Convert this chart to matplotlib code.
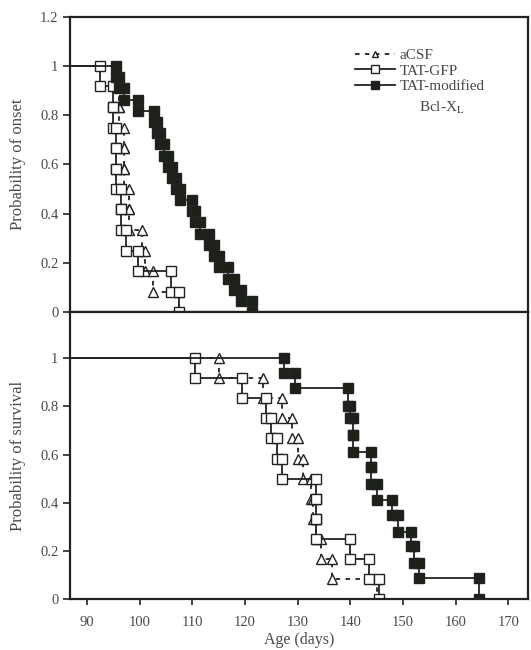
import matplotlib
matplotlib.use("Agg")
import matplotlib.pyplot as plt

plt.rcParams["font.family"] = ["Liberation Serif", "DejaVu Serif"]
plt.rcParams["mathtext.fontset"] = "stix"

# onset (top panel): event days and probability after each event
onset_acsf_days = [95.5, 96, 96, 97, 97, 97, 98, 98, 100.5, 101, 102.5, 107.5]
onset_acsf_p = [0.917, 0.833, 0.75, 0.667, 0.583, 0.5, 0.417, 0.333, 0.25, 0.167, 0.083, 0]
onset_gfp_days = [92.5, 95, 95, 95.5, 95.5, 95.5, 96.5, 96.5, 97.5, 99.7, 106, 107.5]
onset_gfp_p = [0.917, 0.833, 0.75, 0.667, 0.583, 0.5, 0.417, 0.333, 0.25, 0.167, 0.083, 0]
onset_bcl_days = [95.5, 96.1, 97, 99.7, 102.7, 103.3, 103.9, 104.6, 105.4, 106.1, 106.9,
                  107.6, 109.9, 110.5, 111.4, 113.1, 114.1, 115, 116.8, 117.9, 119.2, 121.3]
onset_bcl_p = [0.955, 0.909, 0.864, 0.818, 0.773, 0.727, 0.682, 0.636, 0.591, 0.545, 0.5,
               0.455, 0.409, 0.364, 0.318, 0.273, 0.227, 0.182, 0.136, 0.091, 0.045, 0]

# survival (bottom panel)
surv_acsf_days = [115, 123.5, 127, 129, 130, 131, 132.5, 133, 133.5, 134.5, 136.5, 145]
surv_acsf_p = [0.917, 0.833, 0.75, 0.667, 0.583, 0.5, 0.417, 0.333, 0.25, 0.167, 0.083, 0]
surv_gfp_days = [110.5, 119.5, 124, 125, 126, 127, 133.5, 133.5, 133.5, 140, 143.5, 145.5]
surv_gfp_p = [0.917, 0.833, 0.75, 0.667, 0.583, 0.5, 0.417, 0.333, 0.25, 0.167, 0.083, 0]
surv_bcl_days = [127.5, 129.5, 139.5, 140, 140.5, 140.5, 144, 144, 145, 148, 149, 151.5,
                 152, 153, 164.5]
surv_bcl_p = [0.94, 0.875, 0.80, 0.75, 0.68, 0.61, 0.55, 0.48, 0.41, 0.35, 0.28, 0.22,
              0.15, 0.087, 0]

xticks = [90, 100, 110, 120, 130, 140, 150, 160, 170]
yticks = [0, 0.2, 0.4, 0.6, 0.8, 1, 1.2]
ytick_labels = ["0", "0.2", "0.4", "0.6", "0.8", "1", "1.2"]

XMIN, XMAX = 86.8, 173.7
INK = "#222222"
TXT = "#4a4a4a"
FILL = "#1c2119"


def km_path(days, probs, x0):
    xs, ys = [x0], [1.0]
    prev = 1.0
    for d, p in zip(days, probs):
        xs += [d, d]
        ys += [prev, p]
        prev = p
    return xs, ys


def draw(ax, days, probs, ls, marker, face, ms, label=None):
    xs, ys = km_path(days, probs, XMIN)
    ax.plot(xs, ys, ls=ls, color=INK, lw=1.3, marker=marker, ms=ms,
            mfc=face, mec=INK, mew=1.0, markevery=list(range(1, len(xs))),
            label=label)


fig = plt.figure(figsize=(5.31, 6.5), dpi=100)
ax1 = fig.add_axes([0.132, 0.52, 0.862, 0.454])
ax2 = fig.add_axes([0.132, 0.078, 0.862, 0.4415])

dash = (0, (2.5, 3))
draw(ax1, onset_acsf_days, onset_acsf_p, dash, "^", "white", 6.5, "aCSF")
draw(ax1, onset_gfp_days, onset_gfp_p, "-", "s", "white", 7, "TAT-GFP")
draw(ax1, onset_bcl_days, onset_bcl_p, "-", "s", FILL, 7, "TAT-modified")

draw(ax2, surv_acsf_days, surv_acsf_p, dash, "^", "white", 6.5)
draw(ax2, surv_gfp_days, surv_gfp_p, "-", "s", "white", 7)
draw(ax2, surv_bcl_days, surv_bcl_p, "-", "s", FILL, 7)

for ax in (ax1, ax2):
    ax.set_xlim(XMIN, XMAX)
    ax.set_yticks(yticks)
    ax.set_yticklabels(ytick_labels)
    for s in ax.spines.values():
        s.set_color(INK)
        s.set_linewidth(1.6)
    ax.tick_params(axis="y", direction="out", length=5, width=1.2, colors=INK,
                   labelcolor=TXT, labelsize=10.5)

ax1.set_ylim(0, 1.2)
ax1.set_xticks([])
ax1.set_ylabel("Probability of onset", fontsize=12, color=TXT, labelpad=10)

ax2.set_ylim(0, 1.19)
ax2.set_yticks(yticks[:-1])
ax2.set_yticklabels(ytick_labels[:-1])
ax2.set_xticks(xticks)
ax2.tick_params(axis="x", direction="out", length=4, width=1.2, colors=INK,
                labelcolor=TXT, labelsize=10.5, pad=8)
ax2.set_xlabel("Age (days)", fontsize=11.5, color=TXT, labelpad=2)
ax2.set_ylabel("Probability of survival", fontsize=12, color=TXT, labelpad=10)

leg = ax1.legend(loc="upper left", bbox_to_anchor=(0.61, 0.914), frameon=False,
                 fontsize=11, handlelength=2.6, handletextpad=0.3,
                 labelspacing=0.12, markerscale=0.75, labelcolor=TXT,
                 borderaxespad=0)
ax1.text(0.762, 0.69, "Bcl-X$_\\mathrm{L}$", transform=ax1.transAxes,
         fontsize=11, color=TXT, va="center", ha="left")

fig.savefig("out.png", dpi=100)
